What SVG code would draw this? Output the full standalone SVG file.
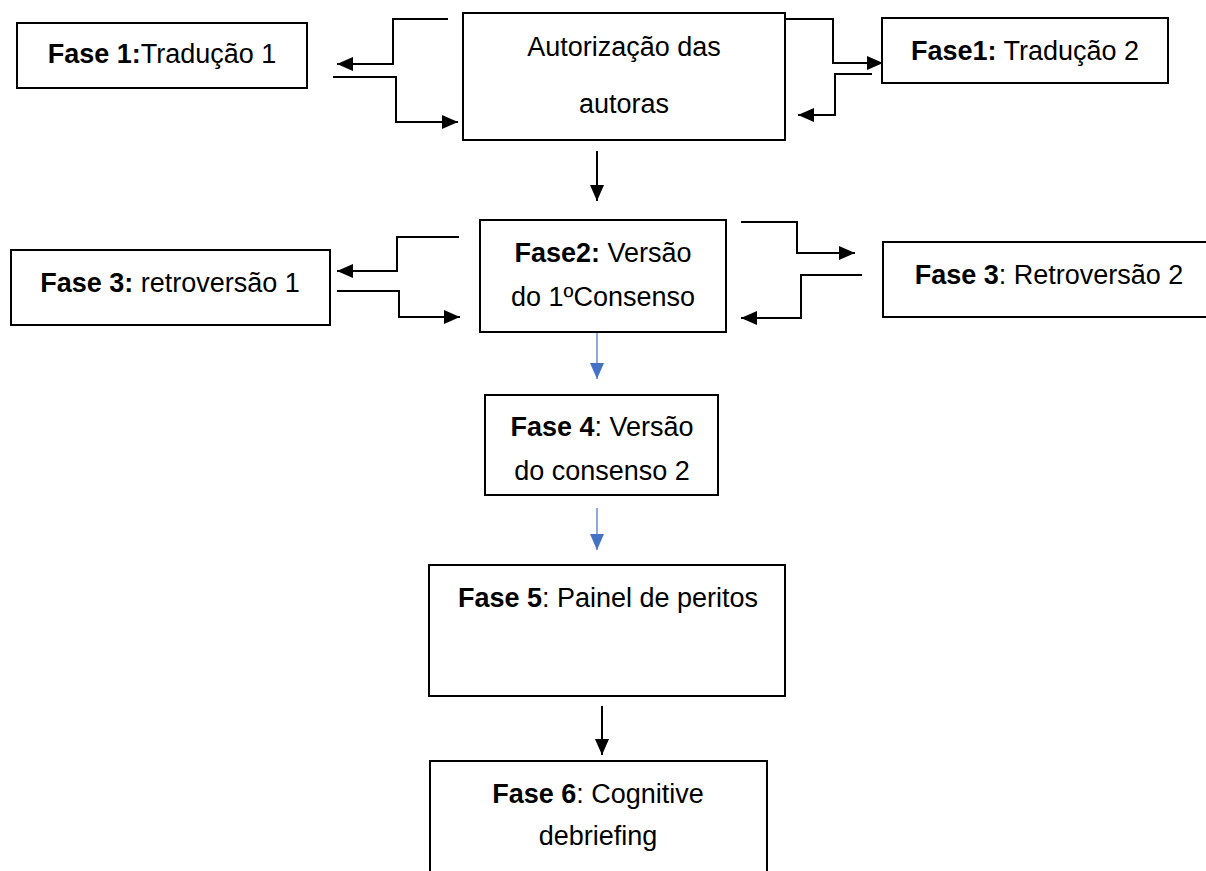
<svg xmlns="http://www.w3.org/2000/svg" width="1206" height="871" viewBox="0 0 1206 871">
<style>
.box{fill:#fff;stroke:#000;stroke-width:2}
.t{font-family:"Liberation Sans",Arial,sans-serif;font-size:27px;fill:#000;text-anchor:middle}
.b{font-weight:bold}
.c{fill:none;stroke:#000;stroke-width:2}
.cb{fill:none;stroke:#4472C4;stroke-width:1.2}
</style>
<defs>
<marker id="ah" markerUnits="userSpaceOnUse" markerWidth="18" markerHeight="16" refX="16" refY="7" orient="auto">
<path d="M0,0 L16,7 L0,14 Z" fill="#000"/>
</marker>
<marker id="ahb" markerUnits="userSpaceOnUse" markerWidth="18" markerHeight="16" refX="16" refY="7" orient="auto">
<path d="M0,0 L16,7 L0,14 Z" fill="#4472C4"/>
</marker>
</defs>
<rect width="1206" height="871" fill="#fff"/>
<g id="n1"><rect class="box" x="17" y="23" width="290" height="65"/><text class="t" x="162" y="63"><tspan class="b">Fase 1:</tspan>Tradução 1</text></g>
<g id="n2"><rect class="box" x="463" y="13" width="322" height="127"/><text class="t" x="624" y="56">Autorização das</text><text class="t" x="624" y="113">autoras</text></g>
<g id="n3"><rect class="box" x="882" y="18" width="286" height="65"/><text class="t" x="1025" y="60"><tspan class="b">Fase1:</tspan> Tradução 2</text></g>
<g id="n4"><rect class="box" x="480" y="220" width="246" height="112"/><text class="t" x="603" y="262"><tspan class="b">Fase2:</tspan> Versão</text><text class="t" x="603" y="306">do 1ºConsenso</text></g>
<g id="n5"><rect class="box" x="11" y="250" width="319" height="75"/><text class="t" x="170" y="292"><tspan class="b">Fase 3:</tspan> retroversão 1</text></g>
<g id="n6"><path class="box" d="M1210,242 H883 V317 H1210"/><text class="t" x="1049" y="284"><tspan class="b">Fase 3</tspan>: Retroversão 2</text></g>
<g id="n7"><rect class="box" x="485" y="395" width="233" height="100"/><text class="t" x="602" y="436"><tspan class="b">Fase 4</tspan>: Versão</text><text class="t" x="602" y="480">do consenso 2</text></g>
<g id="n8"><rect class="box" x="429" y="565" width="356" height="131"/><text class="t" x="608" y="607"><tspan class="b">Fase 5</tspan>: Painel de peritos</text></g>
<g id="n9"><path class="box" d="M430,875 V761 H767 V875"/><text class="t" x="598" y="803"><tspan class="b">Fase 6</tspan>: Cognitive</text><text class="t" x="598" y="845">debriefing</text></g>
<g id="connectors">
<path class="c" d="M448,19 H393 V64 H337" marker-end="url(#ah)"/>
<path class="c" d="M333,77 H396 V122 H458" marker-end="url(#ah)"/>
<path class="c" d="M785,19 H833 V63 H883" marker-end="url(#ah)"/>
<path class="c" d="M872,74 H835 V115 H798" marker-end="url(#ah)"/>
<path class="c" d="M597,151 V201" marker-end="url(#ah)"/>
<path class="c" d="M459,237 H397 V271 H337" marker-end="url(#ah)"/>
<path class="c" d="M337,291 H399 V317 H460" marker-end="url(#ah)"/>
<path class="c" d="M741,222 H797 V253 H855" marker-end="url(#ah)"/>
<path class="c" d="M862,275 H801 V318 H741" marker-end="url(#ah)"/>
<path class="cb" d="M597,333 V379" marker-end="url(#ahb)"/>
<path class="cb" d="M597,508 V550" marker-end="url(#ahb)"/>
<path class="c" d="M602,706 V755" marker-end="url(#ah)"/>
</g>
</svg>
